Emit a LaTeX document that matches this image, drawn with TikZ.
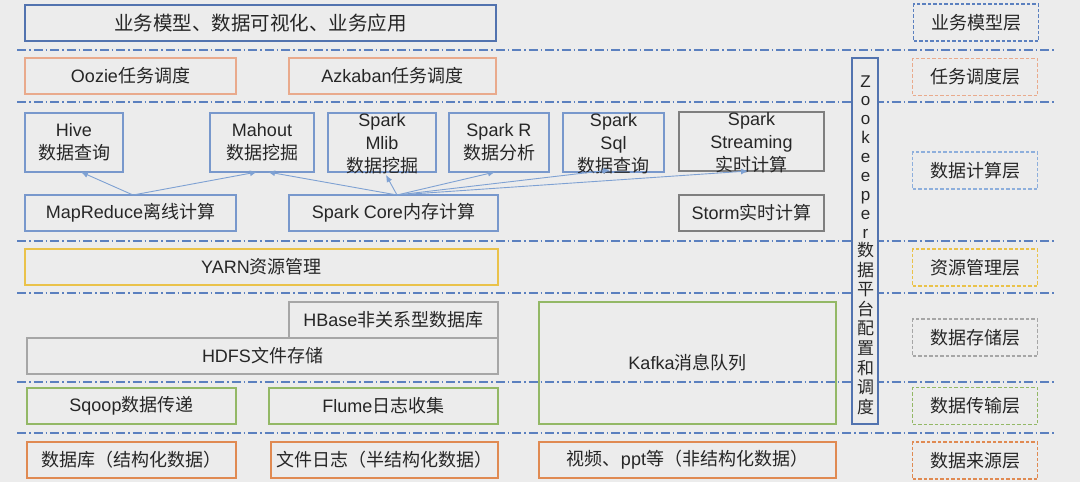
\documentclass[tikz,border=0pt]{standalone}
\usepackage{fontspec}
\setmainfont{Liberation Sans}
\newfontfamily\cjk{Noto Sans CJK SC}
\usetikzlibrary{arrows.meta,calc}
\newcommand\zhs[1]{{\cjk #1}}
\definecolor{bg}{HTML}{ECECEC}
\definecolor{txt}{HTML}{262626}
\definecolor{blueA}{HTML}{5273AF}
\definecolor{blueB}{HTML}{7898CC}
\definecolor{grayB}{HTML}{7F7F7F}
\definecolor{grayC}{HTML}{A6A6A6}
\definecolor{orangeA}{HTML}{E9AA8C}
\definecolor{orangeB}{HTML}{E08A52}
\definecolor{gold}{HTML}{EAC24A}
\definecolor{greenA}{HTML}{93B866}
\definecolor{lineblue}{HTML}{5B80BF}
\definecolor{arrowblue}{HTML}{7EA1D3}
\definecolor{lblblue}{HTML}{8EAFDC}
\begin{document}
\begin{tikzpicture}[x=1pt,y=-1pt,
  box/.style={draw=#1, line width=1.3pt, inner sep=0pt, outer sep=0pt, text=txt,
    font=\fontsize{18}{23}\selectfont, align=center},
  txtn/.style={inner sep=0pt, text=txt, font=\fontsize{18}{23}\selectfont, align=center},
  lbl/.style={draw=#1, line width=1.3pt, dash pattern=on 3.5pt off 2pt, inner sep=0pt,
    outer sep=0pt, text=txt, font=\fontsize{18}{23}\selectfont, minimum width=125pt, minimum height=37pt},
  layerline/.style={draw=lineblue, line width=1.8pt, dash pattern=on 9pt off 3pt on 1.5pt off 3pt},
  arr/.style={draw=arrowblue, line width=0.9pt, -{Latex[length=7pt,width=6pt]}},
  zkch/.style={inner sep=0pt, text=txt, font=\fontsize{17}{19}\selectfont, anchor=base}
]
\useasboundingbox (0,0) rectangle (1080,482);
\fill[bg] (0,0) rectangle (1080,482);

% layer separators
\foreach \yy [count=\k] in {50,102,241,293,382,433}{
  \coordinate (ls\k) at (17,\yy);
  \coordinate (le\k) at (1056,\yy);
  \draw[layerline] (ls\k) -- (le\k);
}

% application layer
\node[box=blueA, minimum width=471pt, minimum height=36pt, font=\fontsize{19.5}{23}\selectfont] (top) at (260.5,23) {\zhs{业务模型、数据可视化、业务应用}};

% scheduling
\node[box=orangeA, minimum width=211pt, minimum height=36pt] (oozie) at (130.5,76) {Oozie\zhs{任务调度}};
\node[box=orangeA, minimum width=207pt, minimum height=36pt] (azk) at (392.5,76) {Azkaban\zhs{任务调度}};

% compute
\node[box=blueB, minimum width=98pt, minimum height=59pt] (hive) at (74,142.5) {};
\node[txtn] (hivet) at (hive.center) {Hive\\\zhs{数据查询}};
\node[box=blueB, minimum width=104pt, minimum height=59pt] (mahout) at (262,142.5) {};
\node[txtn] (mahoutt) at (mahout.center) {Mahout\\\zhs{数据挖掘}};
\node[box=blueB, minimum width=108pt, minimum height=59pt] (mlib) at (382,142.5) {};
\node[txtn] (mlibt) at ($(mlib.center)+(0,1.5)$) {Spark\\Mlib\\\zhs{数据挖掘}};
\node[box=blueB, minimum width=100pt, minimum height=59pt] (sparkr) at (499,142.5) {};
\node[txtn] (sparkrt) at (sparkr.center) {Spark R\\\zhs{数据分析}};
\node[box=blueB, minimum width=101pt, minimum height=59pt] (sql) at (613.5,142.5) {};
\node[txtn] (sqlt) at ($(sql.center)+(0,1)$) {Spark\\Sql\\\zhs{数据查询}};
\node[box=grayB, minimum width=145pt, minimum height=59pt] (stream) at (751.5,141.5) {};
\node[txtn] (streamt) at ($(stream.center)+(0,1)$) {Spark\\Streaming\\\zhs{实时计算}};

\node[box=blueB, minimum width=211pt, minimum height=36pt] (mr) at (130.5,213) {MapReduce\zhs{离线计算}};
\node[box=blueB, minimum width=209pt, minimum height=36pt] (core) at (393.5,213) {Spark Core\zhs{内存计算}};
\node[box=grayB, minimum width=145pt, minimum height=36pt] (storm) at (751.5,213) {Storm\zhs{实时计算}};

% arrows
\draw[arr] ($(mr.north)+(2.5,0)$) -- ($(hive.south)+(7,0)$);
\draw[arr] ($(mr.north)+(2.5,0)$) -- ($(mahout.south)+(-5,0)$);
\draw[arr] ($(core.north)+(3.5,0)$) -- ($(mahout.south)+(6,0)$);
\draw[arr] ($(core.north)+(3.5,0)$) -- ($(mlib.south)+(4,3)$);
\draw[arr] ($(core.north)+(3.5,0)$) -- ($(sparkr.south)+(-4,0)$);
\draw[arr] ($(core.north)+(3.5,0)$) -- ($(sql.south)+(-3.5,-2)$);
\draw[arr] ($(core.north)+(3.5,0)$) -- ($(stream.south)+(-3.5,0)$);

% resources
\node[box=gold, minimum width=473pt, minimum height=36pt] (yarn) at (261.5,267) {YARN\zhs{资源管理}};

% storage
\node[box=grayC, minimum width=209pt, minimum height=36pt] (hbase) at (393.5,320) {HBase\zhs{非关系型数据库}};
\node[box=grayC, minimum width=471pt, minimum height=36pt] (hdfs) at (262.5,356) {HDFS\zhs{文件存储}};
\node[box=greenA, minimum width=297pt, minimum height=122pt] (kafka) at (687.5,363) {Kafka\zhs{消息队列}};

% transport
\node[box=greenA, minimum width=209pt, minimum height=36pt] (sqoop) at (131.5,406) {Sqoop\zhs{数据传递}};
\node[box=greenA, minimum width=229pt, minimum height=36pt] (flume) at (383.5,406) {Flume\zhs{日志收集}};

% sources
\node[box=orangeB, minimum width=209pt, minimum height=36pt] (db) at (131.5,460) {\zhs{数据库（结构化数据）}};
\node[box=orangeB, minimum width=227pt, minimum height=36pt] (flog) at (384.5,460) {\zhs{文件日志（半结构化数据）}};
\node[box=orangeB, minimum width=297pt, minimum height=36pt] (video) at (687.5,460) {\zhs{视频、}ppt\zhs{等（非结构化数据）}};

% zookeeper
\node[box=blueA, fill=bg, minimum width=26pt, minimum height=366pt] (zk) at (865,241) {};
\foreach \c [count=\i] in {Z,o,o,k,e,e,p,e,r}
  \node[zkch] (zkl\i) at (865.5,{87+(\i-1)*18.9}) {\c};
\foreach \c [count=\i] in {数,据,平,台,配,置,和,调,度}
  \node[zkch] (zkc\i) at (865.5,{256.5+(\i-1)*19.6}) {\zhs{\c}};

% layer labels
\node[lbl=lineblue] (l1) at (976,22.5) {\zhs{业务模型层}};
\node[lbl=orangeA] (l2) at (975,77) {\zhs{任务调度层}};
\node[lbl=lblblue] (l3) at (975,170.5) {\zhs{数据计算层}};
\node[lbl=gold] (l4) at (975,267.5) {\zhs{资源管理层}};
\node[lbl=grayC] (l5) at (975,337.5) {\zhs{数据存储层}};
\node[lbl=greenA] (l6) at (975,406) {\zhs{数据传输层}};
\node[lbl=orangeB] (l7) at (975,460.5) {\zhs{数据来源层}};
\end{tikzpicture}
\end{document}
